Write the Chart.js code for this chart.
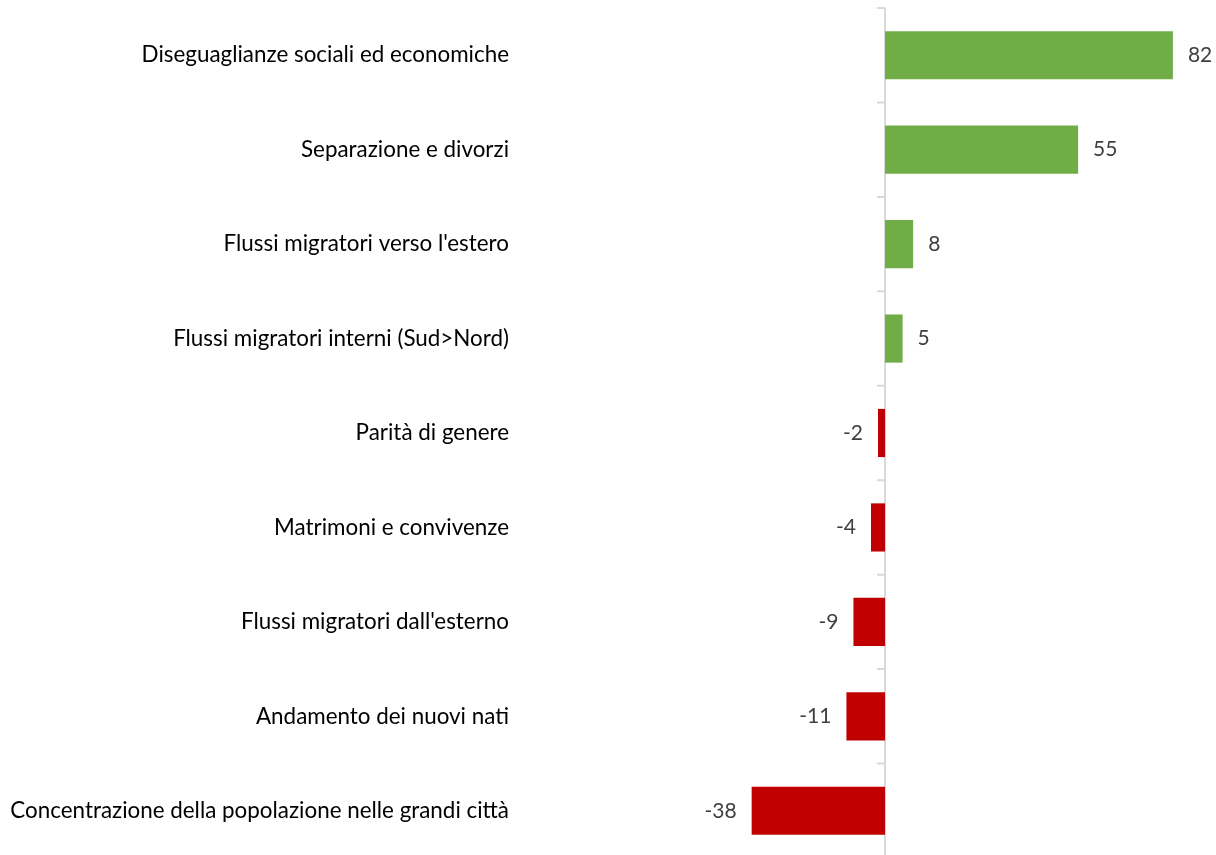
<!DOCTYPE html>
<html>
<head>
<meta charset="utf-8">
<script src="https://cdn.jsdelivr.net/npm/chart.js@4/dist/chart.umd.min.js"></script>
<style>
  html, body { margin: 0; padding: 0; background: #fff; overflow: hidden; }
  #wrap { width: 1216px; height: 858px; }
</style>
</head>
<body>
<div id="wrap"><canvas id="chart"></canvas></div>
<script>
const categories = [
  'Diseguaglianze sociali ed economiche',
  'Separazione e divorzi',
  "Flussi migratori verso l'estero",
  'Flussi migratori interni (Sud>Nord)',
  'Parità di genere',
  'Matrimoni e convivenze',
  "Flussi migratori dall'esterno",
  'Andamento dei nuovi nati',
  'Concentrazione della popolazione nelle grandi città'
];
const values = [82, 55, 8, 5, -2, -4, -9, -11, -38];

const GREEN = '#70AD47';
const RED = '#C00000';

// zero axis line with tick marks between categories
const zeroAxis = {
  id: 'zeroAxis',
  beforeDatasetsDraw(chart) {
    const { ctx, chartArea, scales: { x, y } } = chart;
    const x0 = x.getPixelForValue(0);
    const half = (y.getPixelForValue(1) - y.getPixelForValue(0)) / 2;
    ctx.save();
    ctx.strokeStyle = '#D9D9D9';
    ctx.lineWidth = 2;
    ctx.beginPath();
    ctx.moveTo(x0, chartArea.top);
    ctx.lineTo(x0, chartArea.bottom);
    for (let i = 0; i <= categories.length; i++) {
      const yy = y.getPixelForValue(i) - half;
      ctx.moveTo(x0 - 8, yy);
      ctx.lineTo(x0, yy);
    }
    ctx.stroke();
    ctx.restore();
  }
};

// value labels next to bar ends
const valueLabels = {
  id: 'valueLabels',
  afterDatasetsDraw(chart) {
    const { ctx } = chart;
    const meta = chart.getDatasetMeta(0);
    ctx.save();
    ctx.font = '21px Lato';
    ctx.fillStyle = '#404040';
    ctx.textBaseline = 'middle';
    meta.data.forEach((bar, i) => {
      const v = values[i];
      if (v >= 0) {
        ctx.textAlign = 'left';
        ctx.fillText(String(v), bar.x + 15, bar.y);
      } else {
        ctx.textAlign = 'right';
        ctx.fillText(String(v), bar.x - 15, bar.y);
      }
    });
    ctx.restore();
  }
};

new Chart(document.getElementById('chart'), {
  type: 'bar',
  data: {
    labels: categories,
    datasets: [{
      data: values,
      backgroundColor: values.map(v => v >= 0 ? GREEN : RED),
      borderWidth: 0,
      barPercentage: 0.51,
      categoryPercentage: 1
    }]
  },
  options: {
    indexAxis: 'y',
    responsive: true,
    maintainAspectRatio: false,
    animation: false,
    layout: { padding: { top: 8, right: 8, bottom: 0, left: 0 } },
    plugins: {
      legend: { display: false },
      tooltip: { enabled: false }
    },
    scales: {
      x: {
        display: false,
        min: -100,
        max: 92
      },
      y: {
        grid: { display: false, drawTicks: false },
        border: { display: false },
        ticks: {
          color: '#000',
          padding: 25,
          font: { family: 'Lato', size: 22.4 }
        },
        afterFit(scale) {
          scale.width = 534;
          scale.paddingTop = 0;
          scale.paddingBottom = 0;
        }
      }
    }
  },
  plugins: [zeroAxis, valueLabels]
});
</script>
</body>
</html>
